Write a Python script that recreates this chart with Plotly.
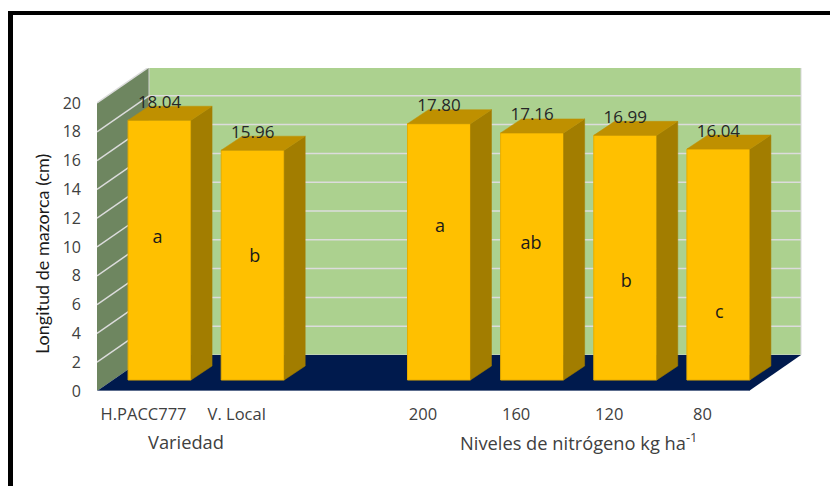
import plotly.graph_objects as go

# Data
positions = [0, 1, 3, 4, 5, 6]
tick_labels = ["H.PACC777", "V. Local", "200", "160", "120", "80"]
values = [18.04, 15.96, 17.80, 17.16, 16.99, 16.04]
value_labels = ["18.04", "15.96", "17.80", "17.16", "16.99", "16.04"]
letters = ["a", "b", "a", "ab", "b", "c"]
letter_heights = [9.8, 8.5, 10.6, 9.4, 6.75, 4.6]
letter_shift = [-2, 2, 1, -1, 1, 1]
y_ticks = list(range(0, 21, 2))

# Layout constants (pixels)
W, H = 830, 486
L, R, T, B = 97, 803, 68, 391
PX_X = 93.14
PX_Y = 14.4
FONT = "Open Sans, Lato, sans-serif"
TITLE_FONT = "Lato, sans-serif"
TXT = "#404040"

# 3-D projection, expressed in axis units
WALL_DX, WALL_DY = 52 / PX_X, 36 / PX_Y
BAR_OX, BAR_OY = 16 / PX_X, 11 / PX_Y
BAR_DX, BAR_DY = 21 / PX_X, 14 / PX_Y
BAR_W = 63 / PX_X
X0 = -0.5
X1 = 6.5
Y_TOP = 20


def path(pts):
    return "M " + " L ".join(f"{x:.4f},{y:.4f}" for x, y in pts) + " Z"


def px(x):
    return (x - L) / (R - L)


def py(y):
    return (B - y) / (B - T)


shapes = []
# side wall
shapes.append(dict(type="path", layer="below", line_width=0, fillcolor="#6e8660",
                   path=path([(X0, 0), (X0 + WALL_DX, WALL_DY), (X0 + WALL_DX, Y_TOP + WALL_DY), (X0, Y_TOP)])))
# back wall
shapes.append(dict(type="path", layer="below", line=dict(color="#d4d4d4", width=1), fillcolor="#acd18f",
                   path=path([(X0 + WALL_DX, WALL_DY), (X1 + WALL_DX, WALL_DY), (X1 + WALL_DX, Y_TOP + WALL_DY), (X0 + WALL_DX, Y_TOP + WALL_DY)])))
# gridlines
for t in y_ticks[1:]:
    shapes.append(dict(type="line", layer="below", line=dict(color="#dcdcdc", width=1.5),
                       x0=X0, y0=t, x1=X0 + WALL_DX, y1=t + WALL_DY))
    shapes.append(dict(type="line", layer="below", line=dict(color="#dcdcdc", width=1.5),
                       x0=X0 + WALL_DX, y0=t + WALL_DY, x1=X1 + WALL_DX, y1=t + WALL_DY))
# floor
shapes.append(dict(type="path", layer="below", line_width=0, fillcolor="#001a4d",
                   path=path([(X0, 0), (X1, 0), (X1 + WALL_DX, WALL_DY), (X0 + WALL_DX, WALL_DY)])))
shapes.append(dict(type="line", layer="below", line=dict(color="#b8c0d0", width=1), x0=X0, y0=0, x1=X1, y1=0))
# page frame
shapes.append(dict(type="rect", xref="paper", yref="paper", layer="above", line_width=0, fillcolor="#000000",
                   x0=px(8), x1=px(13), y0=py(486), y1=py(11)))
shapes.append(dict(type="rect", xref="paper", yref="paper", layer="above", line_width=0, fillcolor="#000000",
                   x0=px(8), x1=px(830), y0=py(15), y1=py(11)))

fig = go.Figure()
xc = [p + BAR_OX for p in positions]
fig.add_trace(go.Bar(x=xc, y=values, base=BAR_OY, width=BAR_W, marker=dict(color="#ffc000", line=dict(color="#e6ad00", width=1)),
                     hoverinfo="skip", showlegend=False))

for c, v in zip(xc, values):
    l, r = c - BAR_W / 2, c + BAR_W / 2
    top = v + BAR_OY
    fig.add_trace(go.Scatter(x=[r, r + BAR_DX, r + BAR_DX, r, r], y=[BAR_OY, BAR_OY + BAR_DY, top + BAR_DY, top, BAR_OY],
                             mode="lines", fill="toself", fillcolor="#a27d00", line=dict(color="#a27d00", width=0.5),
                             hoverinfo="skip", showlegend=False))
    fig.add_trace(go.Scatter(x=[l, r, r + BAR_DX, l + BAR_DX, l], y=[top, top, top + BAR_DY, top + BAR_DY, top],
                             mode="lines", fill="toself", fillcolor="#bf9000", line=dict(color="#bf9000", width=0.5),
                             hoverinfo="skip", showlegend=False))

fig.add_trace(go.Scatter(x=xc, y=[v + BAR_OY + BAR_DY - 0.4 for v in values], mode="text", text=value_labels,
                         textposition="top center", textfont=dict(family=FONT, size=17, color="#262626"),
                         hoverinfo="skip", showlegend=False))
fig.add_trace(go.Scatter(x=[c + s / PX_X for c, s in zip(xc, letter_shift)], y=[h + BAR_OY for h in letter_heights],
                         mode="text", text=letters,
                         textposition="middle center", textfont=dict(family=FONT, size=18, color="#1a1a1a"),
                         hoverinfo="skip", showlegend=False))

fig.update_layout(
    width=W, height=H,
    margin=dict(l=L, r=W - R, t=T, b=H - B, autoexpand=False),
    paper_bgcolor="white", plot_bgcolor="rgba(0,0,0,0)",
    shapes=shapes, showlegend=False,
    font=dict(family=FONT, color=TXT),
    xaxis=dict(range=[X0, X0 + (R - L) / PX_X], tickvals=positions, ticktext=tick_labels, showgrid=False, zeroline=False,
               showline=False, ticks="", ticklabelstandoff=11, tickfont=dict(family=FONT, size=16.5, color=TXT)),
    yaxis=dict(range=[0, (B - T) / PX_Y], tickvals=y_ticks, showgrid=False, zeroline=False, showline=False, ticks="",
               ticklabelstandoff=15, tickfont=dict(family=FONT, size=16, color=TXT)),
    annotations=[
        dict(text="Longitud de mazorca (cm)", xref="paper", yref="paper", x=px(42), y=py(254), xanchor="center", yanchor="middle",
             textangle=-90, showarrow=False, font=dict(family=TITLE_FONT, size=18, color="#1a1a1a")),
        dict(text="Variedad", xref="paper", yref="paper", x=px(186), y=py(441), xanchor="center", yanchor="middle", showarrow=False,
             font=dict(family=FONT, size=18.3, color=TXT)),
        dict(text="Niveles de nitrógeno kg ha<sup>-1</sup>", xref="paper", yref="paper", x=px(578), y=py(441), xanchor="center", yanchor="middle", showarrow=False,
             font=dict(family=FONT, size=18.3, color=TXT)),
    ],
)
fig.write_html("out.html", post_script="document.body.style.margin='0';", config={"displayModeBar": False})
